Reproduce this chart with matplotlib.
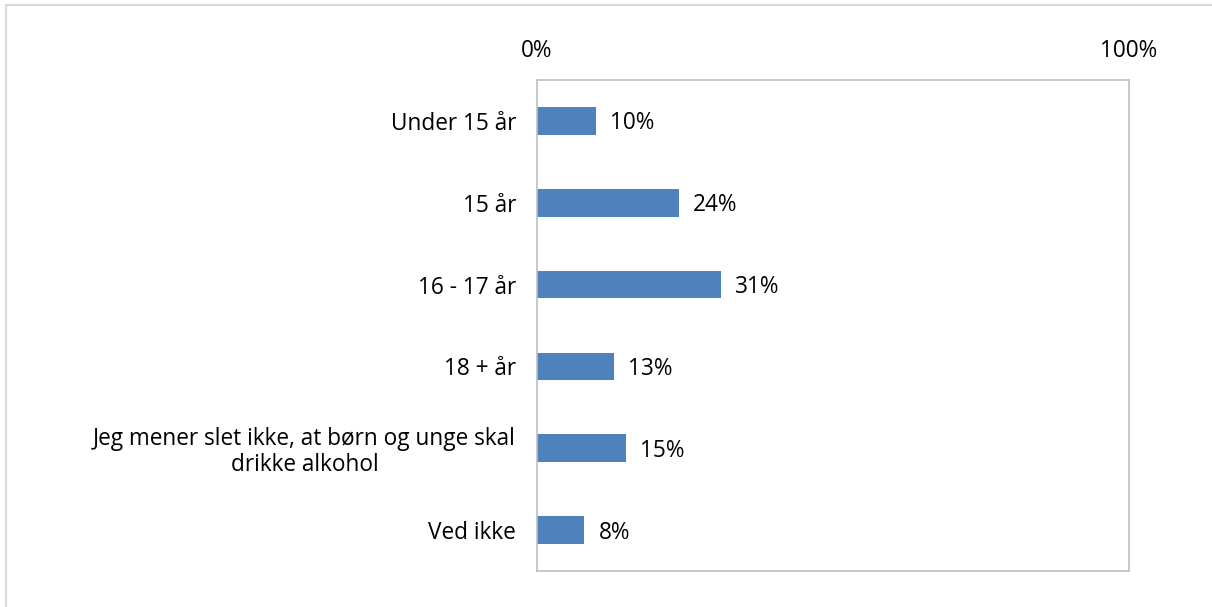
import matplotlib
matplotlib.use("Agg")
import matplotlib.pyplot as plt
from matplotlib.patches import Rectangle

categories = ["Under 15 år", "15 år", "16 - 17 år", "18 + år",
              "Jeg mener slet ikke, at børn og unge skal\ndrikke alkohol", "Ved ikke"]
values = [10, 24, 31, 13, 15, 8]
value_labels = ["10%", "24%", "31%", "13%", "15%", "8%"]
xticks = [0, 100]
xtick_labels = ["0%", "100%"]

plt.rcParams['font.family'] = ['Open Sans', 'DejaVu Sans']
FS = 16.3

fig = plt.figure(figsize=(12.12, 6.07), dpi=100)
fig.patches.append(Rectangle((6/1212, -0.1), 1.1, 1.1 - 5/607, transform=fig.transFigure,
                             fill=False, edgecolor="#d9d9d9", linewidth=1.5))
ax = fig.add_axes([537/1212, 1 - 571/607, 592/1212, 491/607])

ypos = list(range(len(categories)))
ax.barh(ypos, values, height=0.34, color="#4f81bd")
for y, v, lab in zip(ypos, values, value_labels):
    ax.text(v + 2.4, y + 0.03, lab, va="center", ha="left", fontsize=FS, color="#000000")

ax.set_xlim(0, 100)
ax.set_ylim(len(categories) - 0.5, -0.5)
ax.set_yticks(ypos)
ax.set_yticklabels(categories, fontsize=FS, ha="right", multialignment="center",
                   linespacing=1.1)
ax.set_xticks(xticks)
ax.set_xticklabels(xtick_labels, fontsize=FS)
ax.xaxis.tick_top()
ax.tick_params(axis="x", length=0, pad=12)
ax.tick_params(axis="y", length=0, pad=15)
for s in ax.spines.values():
    s.set_color("#bfbfbf")
    s.set_linewidth(1.2)

fig.savefig("out.png", dpi=100)
